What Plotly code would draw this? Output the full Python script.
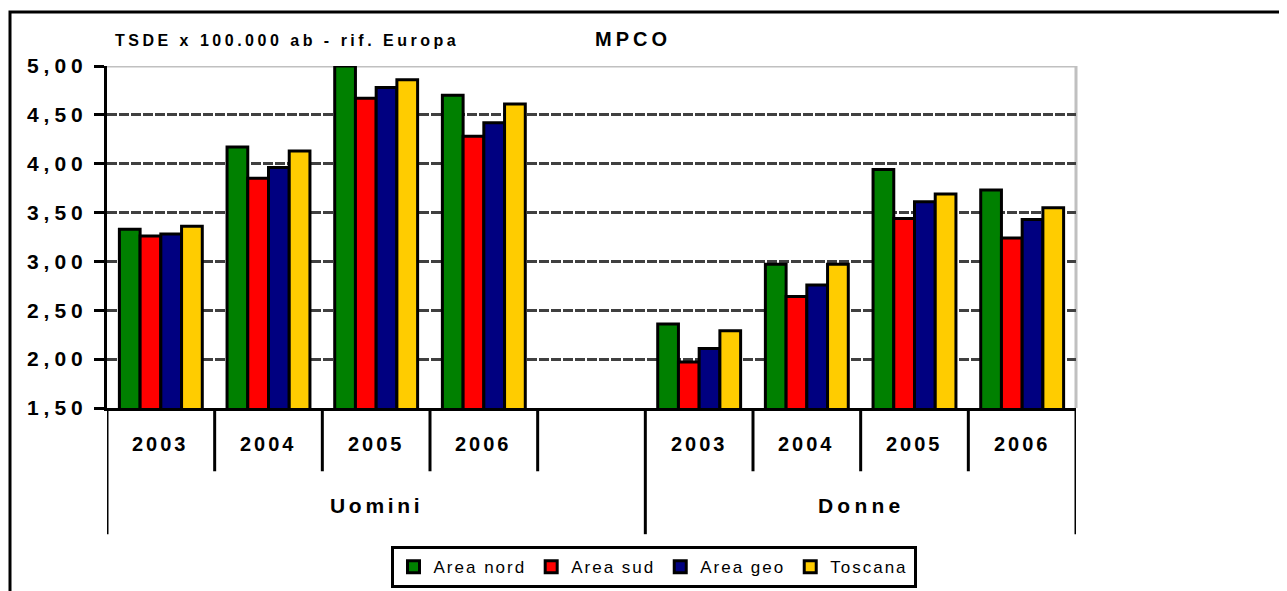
import plotly.graph_objects as go

# ---------------- data ----------------
groups = ["Uomini", "Donne"]
years = ["2003", "2004", "2005", "2006"]
series_names = ["Area nord", "Area sud", "Area geo", "Toscana"]
series_colors = ["#008000", "#FF0000", "#000080", "#FFCC00"]

area_nord_uomini = [3.33, 4.17, 5.00, 4.70]
area_sud_uomini = [3.26, 3.85, 4.67, 4.28]
area_geo_uomini = [3.28, 3.96, 4.78, 4.42]
toscana_uomini = [3.36, 4.13, 4.86, 4.61]

area_nord_donne = [2.36, 2.97, 3.94, 3.73]
area_sud_donne = [1.97, 2.64, 3.44, 3.24]
area_geo_donne = [2.11, 2.76, 3.61, 3.43]
toscana_donne = [2.29, 2.97, 3.69, 3.55]

y_ticks = [1.5, 2.0, 2.5, 3.0, 3.5, 4.0, 4.5, 5.0]
title_left = "TSDE x 100.000 ab - rif. Europa"
title_right = "MPCO"

# ---------------- helpers ----------------
FONT = "Liberation Sans, Arial, Helvetica, sans-serif"


def spaced(text, ls):
    return f'<span style="letter-spacing:{ls}px">{text}</span>'


# categories: Uomini years + spacer slot, Donne years
cats_u = [f"Uomini {y}" for y in years]
cats_d = [f"Donne {y}" for y in years]
cats = cats_u + ["Uomini gap"] + cats_d

series_values = [
    (area_nord_uomini, area_nord_donne),
    (area_sud_uomini, area_sud_donne),
    (area_geo_uomini, area_geo_donne),
    (toscana_uomini, toscana_donne),
]

fig = go.Figure()
for name, color, (vu, vd) in zip(series_names, series_colors, series_values):
    fig.add_trace(go.Bar(
        name=spaced(name, 2),
        x=cats_u + cats_d,
        y=vu + vd,
        marker=dict(color=color, line=dict(color="black", width=3)),
    ))

# ---------------- shapes: separators, frames ----------------
shapes = []
# plot-area grey border (top / right)
shapes.append(dict(type="line", xref="paper", yref="y", x0=0, x1=1, y0=5.0, y1=5.0,
                   line=dict(color="#C0C0C0", width=3), layer="below"))
shapes.append(dict(type="line", xref="paper", yref="paper", x0=1, x1=1, y0=0, y1=1,
                   line=dict(color="#C0C0C0", width=3), layer="below"))
n = len(cats)
short_bounds = [i + 0.5 for i in range(n - 1) if i != 4]
long_bounds = [-0.5, 4.5, n - 0.5]
for b in short_bounds:
    shapes.append(dict(type="line", xref="x", yref="paper", x0=b, x1=b, y0=0, y1=-0.185,
                       line=dict(color="black", width=3)))
for b in long_bounds:
    shapes.append(dict(type="line", xref="x", yref="paper", x0=b, x1=b, y0=0, y1=-0.369,
                       line=dict(color="black", width=3)))
# outer chart frame
shapes.append(dict(type="rect", xref="paper", yref="paper", x0=-0.1001, x1=1.25,
                   y0=-0.6, y1=1.1577, line=dict(color="black", width=3),
                   fillcolor="rgba(0,0,0,0)", layer="below"))

# ---------------- annotations ----------------
annotations = []
for i, c in enumerate(cats):
    if c.endswith("gap"):
        continue
    annotations.append(dict(x=i, y=-0.105, xref="x", yref="paper", showarrow=False,
                            text=spaced(c.split(" ")[1], 3), xanchor="center", yanchor="middle",
                            font=dict(family=FONT, size=20, color="black", weight="bold")))
annotations.append(dict(x=2.0, y=-0.285, xref="x", yref="paper", showarrow=False,
                        text=spaced(groups[0], 3.7), xanchor="center", yanchor="middle",
                        font=dict(family=FONT, size=21, color="black", weight="bold")))
annotations.append(dict(x=6.5, y=-0.285, xref="x", yref="paper", showarrow=False,
                        text=spaced(groups[1], 4.2), xanchor="center", yanchor="middle",
                        font=dict(family=FONT, size=21, color="black", weight="bold")))
annotations.append(dict(x=0.0062, y=1.076, xref="paper", yref="paper", showarrow=False,
                        text=spaced(title_left, 3.5), xanchor="left", yanchor="middle",
                        font=dict(family=FONT, size=16, color="black", weight="bold")))
annotations.append(dict(x=0.502, y=1.079, xref="paper", yref="paper", showarrow=False,
                        text=spaced(title_right, 4), xanchor="left", yanchor="middle",
                        font=dict(family=FONT, size=20, color="black", weight="bold")))

fig.update_layout(
    width=1279, height=591,
    margin=dict(l=99, r=211, t=58, b=190.5, pad=0, autoexpand=False),
    paper_bgcolor="white", plot_bgcolor="white",
    barmode="group", bargap=0.23, bargroupgap=0,
    font=dict(family=FONT, color="black"),
    showlegend=True,
    legend=dict(orientation="h", x=0.564, xanchor="center", y=-0.404, yanchor="top",
                bordercolor="black", borderwidth=3, bgcolor="white",
                font=dict(family=FONT, size=17, color="black"),
                itemwidth=30, traceorder="normal"),
    shapes=shapes,
    annotations=annotations,
)
fig.update_xaxes(type="category", categoryorder="array", categoryarray=cats,
                 range=[-0.5, n - 0.5], showticklabels=False, ticks="",
                 showgrid=False, showline=True, linecolor="black", linewidth=3,
                 zeroline=False, fixedrange=True)
fig.update_yaxes(range=[1.5, 5.0], tickvals=y_ticks,
                 ticktext=[spaced(f"{v:.2f}".replace(".", ","), 5) for v in y_ticks],
                 tickfont=dict(family=FONT, size=21, color="black", weight="bold"),
                 ticks="outside", ticklen=10, tickwidth=3, tickcolor="black",
                 ticklabelstandoff=2,
                 showgrid=True, gridcolor="#404040", gridwidth=3, griddash="10px,2px",
                 showline=True, linecolor="black", linewidth=3, zeroline=False,
                 fixedrange=True)

fig.write_html("out.html")
